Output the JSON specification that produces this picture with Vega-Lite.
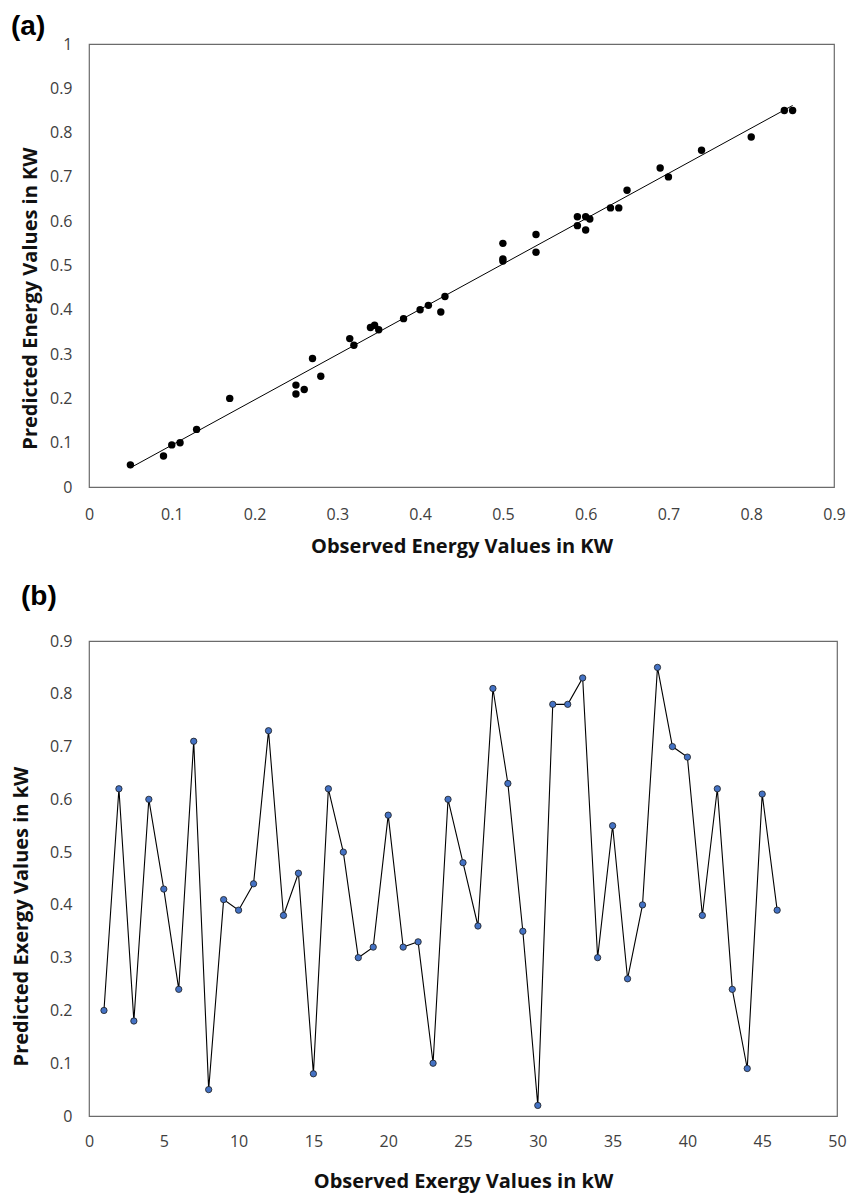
{
  "$schema": "https://vega.github.io/schema/vega-lite/v6.json",
  "background": "white",
  "padding": {"left": 10, "top": 12, "right": 2, "bottom": 4},
  "bounds": "flush",
  "spacing": 154,
  "config": {
    "view": {"stroke": "#6b6b6b", "strokeWidth": 1.2},
    "font": "Open Sans",
    "axis": {
      "grid": false,
      "ticks": false,
      "domain": false,
      "labelFont": "Open Sans",
      "labelFontSize": 16,
      "labelColor": "#404040",
      "titleFont": "Open Sans",
      "titleFontWeight": "bold",
      "titleFontSize": 20,
      "titleColor": "#111111"
    },
    "title": {"font": "Arial", "fontWeight": "bold", "fontSize": 28, "color": "#000000", "anchor": "start", "frame": "group"}
  },
  "datasets": {
    "energy": [
      {"obs": 0.05, "pred": 0.05}, {"obs": 0.09, "pred": 0.07}, {"obs": 0.10, "pred": 0.095},
      {"obs": 0.11, "pred": 0.10}, {"obs": 0.13, "pred": 0.13}, {"obs": 0.17, "pred": 0.20},
      {"obs": 0.25, "pred": 0.23}, {"obs": 0.25, "pred": 0.21}, {"obs": 0.26, "pred": 0.22},
      {"obs": 0.27, "pred": 0.29}, {"obs": 0.28, "pred": 0.25}, {"obs": 0.315, "pred": 0.335},
      {"obs": 0.32, "pred": 0.32}, {"obs": 0.34, "pred": 0.36}, {"obs": 0.345, "pred": 0.365},
      {"obs": 0.35, "pred": 0.355}, {"obs": 0.38, "pred": 0.38}, {"obs": 0.40, "pred": 0.40},
      {"obs": 0.41, "pred": 0.41}, {"obs": 0.425, "pred": 0.395}, {"obs": 0.43, "pred": 0.43},
      {"obs": 0.50, "pred": 0.55}, {"obs": 0.50, "pred": 0.51}, {"obs": 0.50, "pred": 0.515},
      {"obs": 0.54, "pred": 0.57}, {"obs": 0.54, "pred": 0.53}, {"obs": 0.59, "pred": 0.61},
      {"obs": 0.59, "pred": 0.59}, {"obs": 0.60, "pred": 0.61}, {"obs": 0.60, "pred": 0.58},
      {"obs": 0.605, "pred": 0.605}, {"obs": 0.63, "pred": 0.63}, {"obs": 0.64, "pred": 0.63},
      {"obs": 0.65, "pred": 0.67}, {"obs": 0.69, "pred": 0.72}, {"obs": 0.70, "pred": 0.70},
      {"obs": 0.74, "pred": 0.76}, {"obs": 0.80, "pred": 0.79}, {"obs": 0.84, "pred": 0.85},
      {"obs": 0.85, "pred": 0.85}
    ],
    "exergy": [
      {"n": 1, "v": 0.20}, {"n": 2, "v": 0.62}, {"n": 3, "v": 0.18}, {"n": 4, "v": 0.60},
      {"n": 5, "v": 0.43}, {"n": 6, "v": 0.24}, {"n": 7, "v": 0.71}, {"n": 8, "v": 0.05},
      {"n": 9, "v": 0.41}, {"n": 10, "v": 0.39}, {"n": 11, "v": 0.44}, {"n": 12, "v": 0.73},
      {"n": 13, "v": 0.38}, {"n": 14, "v": 0.46}, {"n": 15, "v": 0.08}, {"n": 16, "v": 0.62},
      {"n": 17, "v": 0.50}, {"n": 18, "v": 0.30}, {"n": 19, "v": 0.32}, {"n": 20, "v": 0.57},
      {"n": 21, "v": 0.32}, {"n": 22, "v": 0.33}, {"n": 23, "v": 0.10}, {"n": 24, "v": 0.60},
      {"n": 25, "v": 0.48}, {"n": 26, "v": 0.36}, {"n": 27, "v": 0.81}, {"n": 28, "v": 0.63},
      {"n": 29, "v": 0.35}, {"n": 30, "v": 0.02}, {"n": 31, "v": 0.78}, {"n": 32, "v": 0.78},
      {"n": 33, "v": 0.83}, {"n": 34, "v": 0.30}, {"n": 35, "v": 0.55}, {"n": 36, "v": 0.26},
      {"n": 37, "v": 0.40}, {"n": 38, "v": 0.85}, {"n": 39, "v": 0.70}, {"n": 40, "v": 0.68},
      {"n": 41, "v": 0.38}, {"n": 42, "v": 0.62}, {"n": 43, "v": 0.24}, {"n": 44, "v": 0.09},
      {"n": 45, "v": 0.61}, {"n": 46, "v": 0.39}
    ]
  },
  "vconcat": [
    {
      "title": {"text": "(a)", "dx": -78, "offset": -5},
      "width": 745,
      "height": 443,
      "data": {"name": "energy"},
      "layer": [
        {
          "mark": {"type": "line", "color": "#000000", "strokeWidth": 1},
          "transform": [{"regression": "pred", "on": "obs"}],
          "encoding": {
            "x": {"field": "obs", "type": "quantitative"},
            "y": {"field": "pred", "type": "quantitative"}
          }
        },
        {
          "mark": {"type": "circle", "color": "#000000", "opacity": 1, "size": 55},
          "encoding": {
            "x": {
              "field": "obs", "type": "quantitative",
              "scale": {"domain": [0, 0.9], "nice": false, "zero": false},
              "axis": {
                "title": "Observed Energy Values in KW",
                "values": [0, 0.1, 0.2, 0.3, 0.4, 0.5, 0.6, 0.7, 0.8, 0.9],
                "format": "~g",
                "labelPadding": 19,
                "titlePadding": 14,
                "labelFlush": false
              }
            },
            "y": {
              "field": "pred", "type": "quantitative",
              "scale": {"domain": [0, 1], "nice": false},
              "axis": {
                "title": "Predicted Energy Values in KW",
                "values": [0, 0.1, 0.2, 0.3, 0.4, 0.5, 0.6, 0.7, 0.8, 0.9, 1],
                "format": "~g",
                "labelPadding": 17,
                "titlePadding": 9,
                "titleY": 254
              }
            }
          }
        }
      ]
    },
    {
      "title": {"text": "(b)", "dx": -68, "offset": 22},
      "width": 748,
      "height": 475,
      "data": {"name": "exergy"},
      "encoding": {
        "x": {
          "field": "n", "type": "quantitative",
          "scale": {"domain": [0, 50], "nice": false},
          "axis": {
            "title": "Observed Exergy Values in kW",
            "values": [0, 5, 10, 15, 20, 25, 30, 35, 40, 45, 50],
            "labelPadding": 17,
            "titlePadding": 22,
            "labelFlush": false
          }
        },
        "y": {
          "field": "v", "type": "quantitative",
          "scale": {"domain": [0, 0.9], "nice": false},
          "axis": {
            "title": "Predicted Exergy Values in kW",
            "values": [0, 0.1, 0.2, 0.3, 0.4, 0.5, 0.6, 0.7, 0.8, 0.9],
            "format": "~g",
            "labelPadding": 17,
            "titlePadding": 18,
            "titleY": 275
          }
        }
      },
      "layer": [
        {"mark": {"type": "line", "color": "#000000", "strokeWidth": 1.1}},
        {"mark": {"type": "circle", "fill": "#4472C4", "stroke": "#1a1a1a", "strokeWidth": 0.8, "opacity": 1, "size": 40}}
      ]
    }
  ]
}
